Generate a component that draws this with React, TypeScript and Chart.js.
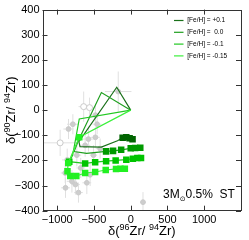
import { useEffect, useRef } from 'react';
import { Chart, registerables } from 'chart.js';
Chart.register(...registerables);

// ---- axes ----
const xTicks = [-1000, -500, 0, 500, 1000];
const yTicks = [-400, -300, -200, -100, 0, 100, 200, 300, 400];
const xRange = [-1200, 1500];
const yRange = [-400, 400];

// ---- model tracks ([Fe/H]) ----
const trackLabels = ['[Fe/H] = +0.1', '[Fe/H] =  0.0', '[Fe/H] = -0.1', '[Fe/H] = -0.15'];
const trackColors = ['#1a701a', '#1f9f1f', '#22c822', '#3cf03c'];
const markColors = ['#006400', '#009a00', '#00c400', '#22f022'];

const t1x = [0, -190, -705, -690, -400, -180, -110, -60, -15, 25];
const t1y = [0, 91, -125, -145, -147, -122, -110, -108, -112, -116];
const t1m = [0, 0, 0, 0, 0, 0, 1, 1, 1, 1];

const t2x = [0, -399, -710, -770, -600, -335, -240, -130, 0, 60, 130];
const t2y = [0, 70, -120, -165, -172, -164, -162, -158, -152, -151, -150];
const t2m = [0, 0, 0, 0, 0, 1, 1, 1, 1, 1, 1];

const t3x = [0, -700, -790, -836, -620, -484, -335, -205, -60, 30, 90, 140];
const t3y = [0, -35, -180, -205, -212, -207, -203, -200, -197, -193, -190, -190];
const t3m = [0, 0, 0, 1, 1, 1, 1, 1, 1, 1, 1, 1];

const t4x = [0, -700, -850, -860, -822, -740, -620, -484, -340, -200, -140, -80];
const t4y = [0, -108, -210, -243, -262, -262, -250, -246, -238, -234, -233, -233];
const t4m = [0, 1, 1, 1, 1, 1, 1, 1, 1, 1, 1, 1];

// ---- presolar grains (grey) ----
const grainX = [-170, -640, -560, -787, -457, -846, -960, -575, -480, -416, -733, -864, -891, -800, -711, -597, -552, -507, -887, -752, 167, -680, -480, -620];
const grainY = [74, 14, 10, -56, -56, -75, -130, -115, -108, -153, -179, -198, -250, -283, -328, -289, -257, -179, -309, -296, -366, -230, -20, -140];
const grainXErr = [180, 70, 60, 80, 60, 70, 230, 80, 60, 60, 60, 70, 60, 70, 60, 60, 60, 50, 60, 60, 40, 60, 60, 70];
const grainYErr = [80, 60, 40, 40, 40, 40, 52, 50, 40, 40, 45, 45, 40, 45, 40, 45, 45, 40, 40, 40, 40, 40, 40, 45];
const grainOpen = [0, 1, 1, 0, 0, 0, 1, 0, 0, 0, 0, 0, 0, 0, 0, 0, 0, 0, 0, 0, 0, 0, 0, 0];

const annotation = ['3M', '⊙', '0.5%  ST'];

const fmt = (v: number) => (v < 0 ? '−' + Math.abs(v) : String(v));
const FONT = 'Liberation Sans, Arial, DejaVu Sans, sans-serif';

function drawRich(ctx: CanvasRenderingContext2D, parts: { t: string; s: number; dy: number }[], x: number, y: number) {
  let w = 0;
  parts.forEach((p) => {
    ctx.font = `${p.s}px ${FONT}`;
    w += ctx.measureText(p.t).width;
  });
  let cx = x - w / 2;
  parts.forEach((p) => {
    ctx.font = `${p.s}px ${FONT}`;
    ctx.fillText(p.t, cx, y + p.dy);
    cx += ctx.measureText(p.t).width;
  });
}

const decorPlugin = {
  id: 'decor',
  afterDraw(chart: any) {
    const { ctx, chartArea: a, scales } = chart;
    const xs = scales.x;
    const ys = scales.y;
    ctx.save();
    ctx.strokeStyle = '#333';
    ctx.lineWidth = 1;
    ctx.strokeRect(Math.round(a.left) + 0.5, Math.round(a.top) + 0.5, Math.round(a.right - a.left) - 1, Math.round(a.bottom - a.top) - 1);
    ctx.beginPath();
    xTicks.forEach((v) => {
      const px = Math.round(xs.getPixelForValue(v)) + 0.5;
      ctx.moveTo(px, a.bottom);
      ctx.lineTo(px, a.bottom - 5);
      ctx.moveTo(px, a.top);
      ctx.lineTo(px, a.top + 5);
    });
    yTicks.forEach((v) => {
      const py = Math.round(ys.getPixelForValue(v)) + 0.5;
      ctx.moveTo(a.left, py);
      ctx.lineTo(a.left + 5, py);
      ctx.moveTo(a.right, py);
      ctx.lineTo(a.right - 5, py);
    });
    ctx.stroke();

    // legend
    ctx.textBaseline = 'middle';
    ctx.textAlign = 'left';
    ctx.font = `6.5px ${FONT}`;
    trackLabels.forEach((lab, i) => {
      const y = 20.5 + i * 11.8;
      ctx.strokeStyle = trackColors[i];
      ctx.lineWidth = 1.2;
      ctx.beginPath();
      ctx.moveTo(174, y);
      ctx.lineTo(183.5, y);
      ctx.stroke();
      ctx.fillStyle = '#000';
      ctx.fillText(lab, 187.3, y);
    });

    // annotation
    ctx.textBaseline = 'alphabetic';
    ctx.fillStyle = '#000';
    let ax = 163;
    ctx.font = `12px ${FONT}`;
    ctx.fillText(annotation[0], ax, 198);
    ax += ctx.measureText(annotation[0]).width;
    ctx.font = `7px DejaVu Sans, ${FONT}`;
    ctx.fillText(annotation[1], ax, 201);
    ax += ctx.measureText(annotation[1]).width;
    ctx.font = `12px ${FONT}`;
    ctx.fillText(annotation[2], ax, 198);

    // axis titles
    const xt = [
      { t: 'δ(', s: 13, dy: 0 },
      { t: '96', s: 9, dy: -5 },
      { t: 'Zr/ ', s: 13, dy: 0 },
      { t: '94', s: 9, dy: -5 },
      { t: 'Zr)', s: 13, dy: 0 },
    ];
    drawRich(ctx, xt, (a.left + a.right) / 2, 234.5);
    const yt = [
      { t: 'δ(', s: 13, dy: 0 },
      { t: '90', s: 9, dy: -5 },
      { t: 'Zr/ ', s: 13, dy: 0 },
      { t: '94', s: 9, dy: -5 },
      { t: 'Zr)', s: 13, dy: 0 },
    ];
    ctx.translate(14.5, (a.top + a.bottom) / 2);
    ctx.rotate(-Math.PI / 2);
    drawRich(ctx, yt, 0, 0);
    ctx.restore();
  },
};

export default function App() {
  const ref = useRef<HTMLCanvasElement>(null);
  useEffect(() => {
    if (!ref.current) return;
    const tracks = [
      [t1x, t1y, t1m],
      [t2x, t2y, t2m],
      [t3x, t3y, t3m],
      [t4x, t4y, t4m],
    ];
    const trackSets = tracks.map(([xs, ys, ms], i) => ({
      data: xs.map((x, j) => ({ x, y: ys[j] })),
      showLine: true,
      borderColor: trackColors[i],
      borderWidth: 1.2,
      backgroundColor: markColors[i],
      pointBackgroundColor: markColors[i],
      pointBorderColor: markColors[i],
      pointBorderWidth: 0,
      pointStyle: 'rect',
      pointRadius: ms.map((m) => (m ? 4.6 : 0)),
      tension: 0,
      order: 1 + (3 - i) * 0.1,
    }));
    const errData: any[] = [];
    grainX.forEach((x, i) => {
      const y = grainY[i];
      errData.push({ x: x - grainXErr[i], y }, { x: x + grainXErr[i], y }, { x, y: null });
      errData.push({ x, y: y - grainYErr[i] }, { x, y: y + grainYErr[i] }, { x, y: null });
    });
    const datasets: any[] = [
      ...trackSets,
      {
        data: grainX.map((x, i) => ({ x, y: grainY[i] })),
        showLine: false,
        pointRadius: grainOpen.map((o) => (o ? 3 : 2.4)),
        pointBackgroundColor: grainOpen.map((o) => (o ? '#ffffff' : '#cdcdcd')),
        pointBorderColor: '#cacaca',
        pointBorderWidth: 1,
        order: 5,
      },
      {
        data: errData,
        showLine: true,
        spanGaps: false,
        borderColor: '#e0e0e0',
        borderWidth: 1,
        pointRadius: 0,
        order: 6,
      },
    ];
    const chart = new Chart(ref.current, {
      type: 'scatter',
      data: { datasets },
      options: {
        responsive: false,
        animation: false,
        events: [],
        layout: { padding: { top: 5, right: 8, left: 0, bottom: 0 } },
        plugins: { legend: { display: false }, tooltip: { enabled: false } },
        scales: {
          x: {
            type: 'linear',
            min: xRange[0],
            max: xRange[1],
            afterBuildTicks: (s: any) => {
              s.ticks = xTicks.map((v) => ({ value: v }));
            },
            afterFit: (s: any) => {
              s.height = 29.3;
            },
            grid: { display: false, drawTicks: false },
            border: { display: false },
            ticks: {
              color: '#000',
              padding: 3,
              maxRotation: 0,
              autoSkip: false,
              font: { family: FONT, size: 11 },
              callback: (v: any) => fmt(Number(v)),
            },
          },
          y: {
            type: 'linear',
            min: yRange[0],
            max: yRange[1],
            afterBuildTicks: (s: any) => {
              s.ticks = yTicks.map((v) => ({ value: v }));
            },
            afterFit: (s: any) => {
              s.width = 42.5;
            },
            grid: { display: false, drawTicks: false },
            border: { display: false },
            ticks: {
              color: '#000',
              padding: 3,
              autoSkip: false,
              font: { family: FONT, size: 11 },
              callback: (v: any) => fmt(Number(v)),
            },
          },
        },
      },
      plugins: [decorPlugin],
    });
    return () => chart.destroy();
  }, []);
  return (
    <div style={{ position: 'fixed', left: 0, top: 0, width: 249, height: 240, background: '#fff' }}>
      <canvas ref={ref} width={249} height={240} style={{ display: 'block' }} />
    </div>
  );
}
